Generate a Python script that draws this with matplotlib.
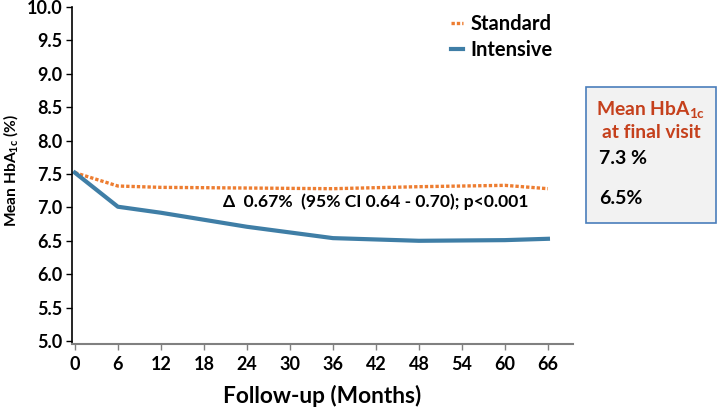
import matplotlib
matplotlib.use("Agg")
import matplotlib.pyplot as plt

orangeColor = "#ED7D31"
blueColor = "#3F7EA6"
redColor = "#C5401C"

months = [0, 6, 12, 24, 36, 48, 60, 66]
standard = [7.52, 7.32, 7.30, 7.29, 7.28, 7.31, 7.33, 7.28]
intensive = [7.52, 7.01, 6.92, 6.71, 6.54, 6.50, 6.51, 6.53]
xticks = list(range(0, 67, 6))
yticks = [5.0 + 0.5 * i for i in range(11)]

plt.rcParams['font.family'] = ['Lato', 'DejaVu Sans']
plt.rcParams['font.weight'] = 'bold'
plt.rcParams['mathtext.fontset'] = 'custom'
plt.rcParams['mathtext.rm'] = 'Lato:bold'
plt.rcParams['mathtext.bf'] = 'Lato:bold'
plt.rcParams['mathtext.default'] = 'bf'

W, H = 718, 409
fig = plt.figure(figsize=(7.18, 4.09), dpi=100, facecolor='w')
ax = fig.add_axes([72 / W, 1 - 344 / H, 501 / W, 337 / H])

ax.plot(months, standard, color=orangeColor, lw=2.4, ls=(0, (1, 0.6)), label='Standard')
ax.plot(months, intensive, color=blueColor, lw=3, label='Intensive')

ax.set_xlim(-0.4, 69.5)
ax.set_ylim(4.955, 10.0)
ax.set_xticks(xticks)
ax.set_yticks(yticks)
ax.set_yticklabels(['%.1f' % v for v in yticks], fontsize=13, fontweight='bold')
ax.set_xticklabels([str(v) for v in xticks], fontsize=13, fontweight='bold')
ax.tick_params(axis='y', length=4, width=1, pad=3)
ax.tick_params(axis='x', length=4, width=1, color='#808080', pad=5)

for s in ('top', 'right'):
    ax.spines[s].set_visible(False)
ax.spines['bottom'].set_color('#808080')
ax.spines['bottom'].set_linewidth(1.5)
ax.spines['left'].set_linewidth(1.2)

ax.set_xlabel('Follow-up (Months)', fontsize=16.3, fontweight='bold')
ax.xaxis.set_label_coords(0.5, -(385 - 344) / 337)
ax.set_ylabel('Mean HbA$_{1c}$ (%)', fontsize=11.2, fontweight='bold')
ax.yaxis.set_label_coords(-(72 - 20) / 501, (344 - 170) / 337)

fig.legend(*ax.get_legend_handles_labels(), loc='upper left',
           bbox_to_anchor=(451 / W, 1 - 14 / H), frameon=False,
           fontsize=14.5, handlelength=0.6, handletextpad=0.35,
           labelspacing=0.3, borderpad=0, borderaxespad=0)

fig.text(223 / W, 1 - 202 / H, '\u0394  0.67%  (95% CI 0.64 - 0.70); p<0.001',
         fontsize=12.6, fontweight='bold', va='center')

# side box with final values
fig.patches.append(plt.Rectangle((586 / W, 1 - 223 / H), 130 / W, 136 / H,
                                 transform=fig.transFigure, facecolor='#F2F2F2',
                                 edgecolor='#4A7EBB', lw=1.2))
fig.text(651 / W, 1 - 109 / H, 'Mean HbA$_{1c}$', color=redColor, fontsize=13.9,
         fontweight='bold', ha='center', va='center')
fig.text(651 / W, 1 - 133 / H, 'at final visit', color=redColor, fontsize=13.9,
         fontweight='bold', ha='center', va='center')
fig.text(599 / W, 1 - 159 / H, '7.3 %', fontsize=14, fontweight='bold', va='center')
fig.text(599 / W, 1 - 199 / H, '6.5%', fontsize=14, fontweight='bold', va='center')

fig.savefig('out.png', dpi=100)
